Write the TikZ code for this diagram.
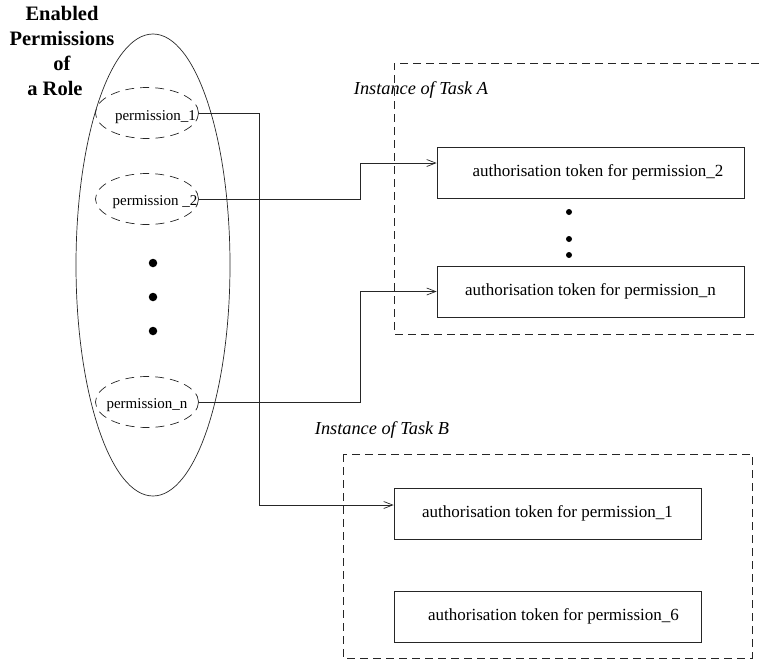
\documentclass[tikz,border=0pt]{standalone}
\usepackage{fontspec}
\setmainfont{Liberation Serif}
\usetikzlibrary{shapes.geometric,arrows.meta,calc}
\begin{document}
\begin{tikzpicture}[x=1pt,y=-1pt,
  line width=0.7pt, draw=black!85,
  perm/.style={draw, dash pattern=on 9pt off 6pt, ellipse,
    minimum width=103pt, minimum height=51pt, inner sep=0pt},
  permtext/.style={inner sep=0pt, font=\fontsize{15}{17}\selectfont},
  token/.style={draw, rectangle, minimum width=307pt, minimum height=51pt,
    inner sep=0pt, font=\fontsize{17}{20}\selectfont},
  group/.style={draw, dash pattern=on 8pt off 5pt},
  caption/.style={font=\fontsize{18.3}{20}\selectfont\itshape},
  arr/.style={-{Straight Barb[length=9pt,width=7pt]}},
  dot/.style={circle, fill=black, inner sep=0pt, minimum size=8.5pt}]
\useasboundingbox (0,0) rectangle (759,662);

% role and its enabled permissions
\node[draw, ellipse, minimum width=154pt, minimum height=462pt] (role) at (153,265) {};
\node[font=\fontsize{20.5}{25}\selectfont\bfseries, align=center] (title) at (62,51)
  {Enabled\\Permissions\\of\\a Role\hspace*{14pt}};
\node[perm] (p1) at (147,113) {};
\node[perm] (p2) at (147,199) {};
\node[perm] (pn) at (147,402) {};
\node[permtext] (t1) at (155.5,117) {permission\_1};
\node[permtext] (t2) at (155,202) {permission \_2};
\node[permtext] (tn) at (147,405) {permission\_n};
\node[dot] (d1) at (153,263) {};
\node[dot] (d2) at (153,297) {};
\node[dot] (d3) at (153,331) {};

% instance of task A
\draw[group] (759,63) -- (394,63) -- (394,334) -- (759,334);
\node[caption] (capA) at (421,90) {Instance of Task A};
\node[token] (a1) at (590.5,172.5) {\hspace*{15pt}authorisation token for permission\_2};
\node[token] (an) at (590.5,291.5) {authorisation token for permission\_n};
\node[dot, minimum size=6pt] (e1) at (569,212) {};
\node[dot, minimum size=6pt] (e2) at (569,239) {};
\node[dot, minimum size=6pt] (e3) at (569,255) {};

% instance of task B
\draw[group] (343,454) rectangle (752,658);
\node[caption] (capB) at (382,430) {Instance of Task B};
\node[token] (b1) at (547.5,513.5) {authorisation token for permission\_1};
\node[token] (b6) at (547.5,616.5) {\hspace*{12pt}authorisation token for permission\_6};

% connectors from permissions to authorisation tokens
\draw[arr] (p1.east) -- (259,113) |- ([yshift=8.5pt]b1.west);
\draw[arr] (p2.east) -- (360,199) |- ([yshift=9.5pt]a1.west);
\draw[arr] (pn.east) -- (360,402) |- (an.west);
\end{tikzpicture}
\end{document}
